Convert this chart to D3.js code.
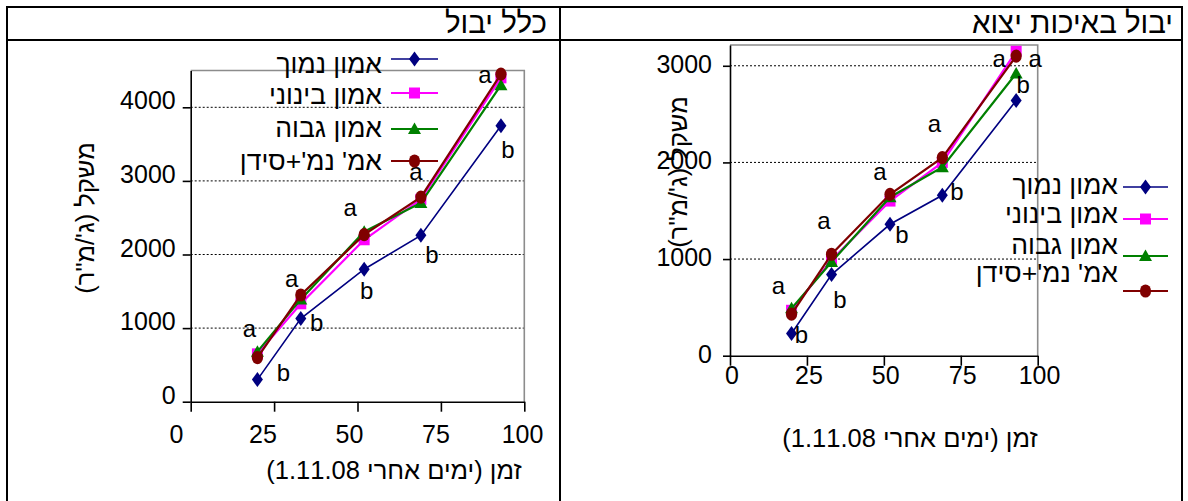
<!DOCTYPE html>
<html>
<head>
<meta charset="utf-8">
<script src="https://cdn.jsdelivr.net/npm/d3@7"></script>
<style>
  html, body { margin: 0; padding: 0; background: #fff; }
  svg { display: block; }
  text { font-family: "Liberation Sans", Arial, "DejaVu Sans", sans-serif; fill: #000; }
</style>
</head>
<body>
<svg id="chart" width="1188" height="501"></svg>
<script>
// ---- data -------------------------------------------------------------
// sampling dates, days after 1.11.08
const days = [20, 33, 52, 69, 93];
const seriesNames = ["אמון נמוך", "אמון בינוני", "אמון גבוה", "אמ' נמ'+סידן"];

// total yield (g/m²)
const totalLowN  = [300, 1130, 1800, 2260, 3750];
const totalMidN  = [650, 1330, 2200, 2750, 4400];
const totalHighN = [680, 1390, 2310, 2700, 4300];
const totalNCa   = [600, 1450, 2270, 2780, 4450];

// export-quality yield (g/m²)
const exportLowN  = [230, 840, 1360, 1660, 2640];
const exportMidN  = [470, 990, 1600, 2000, 3150];
const exportHighN = [490, 970, 1640, 1950, 2920];
const exportNCa   = [430, 1050, 1670, 2050, 3100];

const xTicks = [0, 25, 50, 75, 100];
const totalYTicks = [0, 1000, 2000, 3000, 4000];
const exportYTicks = [0, 1000, 2000, 3000];

// significance letters per date ("a" sits over the group, "b" by the low-N point)
const totalLetters  = [["a", "b"], ["a", "b"], ["a", "b"], ["a", "b"], ["a", "b"]];
const exportLetters = [["a", "b"], ["a", "b"], ["a", "b"], ["a", "b"], ["a", "a", "b"]];

const panelTitles = ["כלל יבול", "יבול באיכות יצוא"];
const yTitle = "משקל (ג'/מ\"ר)";
const xTitle = "זמן (ימים אחרי 1.11.08)";

// ---- styling ----------------------------------------------------------
const colors  = ["#000080", "#FF00FF", "#008000", "#800000"];
const shapes  = ["diamond", "square", "triangle", "circle"];
const widths  = [1.6, 2.2, 2.2, 2.2];
const rtl = s => "\u202B" + s + "\u202C";

const svg = d3.select("#chart");

// table frame
const frame = svg.append("g").attr("stroke", "#000").attr("stroke-width", 2);
frame.append("line").attr("x1", 6).attr("x2", 1183).attr("y1", 7).attr("y2", 7);
frame.append("line").attr("x1", 6).attr("x2", 1183).attr("y1", 40).attr("y2", 40);
frame.append("line").attr("x1", 7).attr("x2", 7).attr("y1", 6).attr("y2", 510);
frame.append("line").attr("x1", 560).attr("x2", 560).attr("y1", 6).attr("y2", 510);
frame.append("line").attr("x1", 1182).attr("x2", 1182).attr("y1", 6).attr("y2", 510);

svg.append("text").attr("x", 547).attr("y", 33).attr("text-anchor", "end")
  .attr("font-size", 29.5).text(rtl(panelTitles[0]));
svg.append("text").attr("x", 1173).attr("y", 33).attr("text-anchor", "end")
  .attr("font-size", 29.5).text(rtl(panelTitles[1]));

function markerPath(shape) {
  switch (shape) {
    case "diamond":  return "M0,-7.5L5.5,0L0,7.5L-5.5,0Z";
    case "square":   return "M-5.5,-5.5H5.5V5.5H-5.5Z";
    case "triangle": return "M0,-6.5L6.5,5L-6.5,5Z";
    default:         return "M-5.6,0A5.6,6.6 0 1,0 5.6,0A5.6,6.6 0 1,0 -5.6,0Z";
  }
}

function drawPanel(p) {
  const g = svg.append("g");
  const x = d3.scaleLinear().domain([0, 100]).range(p.xRange);
  const y = d3.scaleLinear().domain([0, p.yMax]).range(p.yRange);
  const xLabel = d3.scaleLinear().domain([0, 100]).range(p.xLabelRange);

  // dotted gridlines
  g.append("g").selectAll("line").data(p.yTicks.filter(d => d > 0)).join("line")
    .attr("x1", x(0)).attr("x2", x(100))
    .attr("y1", d => y(d)).attr("y2", d => y(d))
    .attr("stroke", "#000").attr("stroke-width", 1).attr("stroke-dasharray", "2,2");

  // plot border (top/right)
  g.append("path")
    .attr("d", `M${x(0)},${y(p.yMax)}H${x(100)}V${y(0)}`)
    .attr("fill", "none").attr("stroke", "#8c8c8c").attr("stroke-width", 1.6);

  // axes
  const fmt = d3.format("d");
  const ax = g.append("g").attr("transform", `translate(0,${y(0)})`)
    .call(d3.axisBottom(x).tickValues(xTicks).tickFormat(fmt)
      .tickSize(10).tickSizeOuter(0).tickPadding(p.xPad));
  ax.attr("font-size", p.tickFont);
  ax.selectAll("text").attr("x", d => xLabel(d) - x(d));
  const ay = g.append("g").attr("transform", `translate(${x(0)},0)`)
    .call(d3.axisLeft(y).tickValues(p.yTicks).tickFormat(fmt)
      .tickSize(p.yTickLen).tickSizeOuter(0).tickPadding(p.yPad));
  ay.attr("font-size", p.tickFont);
  ay.selectAll("text").attr("y", p.yLabelShift);
  [ax, ay].forEach(a => {
    a.selectAll("path, line").attr("stroke", "#000").attr("stroke-width", 1.6);
  });

  // axis titles
  g.append("text").attr("text-anchor", "middle").attr("font-size", p.yTitleFont)
    .attr("transform", `translate(${p.yTitlePos[0]},${p.yTitlePos[1]}) rotate(-90)`)
    .attr("dy", "0.35em").text(rtl(yTitle));
  g.append("text").attr("text-anchor", "middle").attr("font-size", p.xTitleFont)
    .attr("x", p.xTitlePos[0]).attr("y", p.xTitlePos[1]).attr("dy", "0.35em")
    .text(rtl(xTitle));

  // series
  const line = d3.line().x((d, i) => x(days[i])).y(d => y(d));
  p.series.forEach((vals, s) => {
    g.append("path").datum(vals).attr("d", line)
      .attr("fill", "none").attr("stroke", colors[s]).attr("stroke-width", widths[s]);
    g.append("g").selectAll("path").data(vals).join("path")
      .attr("transform", (d, i) => `translate(${x(days[i])},${y(d)})`)
      .attr("d", markerPath(shapes[s])).attr("fill", colors[s]);
  });

  // significance letters
  p.letters.forEach((lets, i) => {
    const top = d3.max(p.series, s => s[i]);
    const low = p.series[0][i];
    lets.forEach((L, k) => {
      const off = p.letterOffsets[i][k];
      const anchorY = L === "a" ? y(top) : y(low);
      g.append("text").attr("text-anchor", "middle").attr("font-size", p.letterFont)
        .attr("x", x(days[i]) + off[0]).attr("y", anchorY + off[1]).attr("dy", "0.35em")
        .text(L);
    });
  });

  // legend
  const lg = g.append("g");
  seriesNames.forEach((name, s) => {
    const ty = p.legend.textY[s], my = p.legend.markY[s];
    lg.append("text").attr("x", p.legend.textRight).attr("y", ty).attr("dy", "0.35em")
      .attr("text-anchor", "end").attr("font-size", p.legendFont).text(rtl(name));
    lg.append("line").attr("x1", p.legend.lineX[0]).attr("x2", p.legend.lineX[1])
      .attr("y1", my).attr("y2", my).attr("stroke", colors[s]).attr("stroke-width", widths[s]);
    lg.append("path").attr("transform", `translate(${(p.legend.lineX[0] + p.legend.lineX[1]) / 2},${my})`)
      .attr("d", markerPath(shapes[s])).attr("fill", colors[s]);
  });
}

drawPanel({
  series: [totalLowN, totalMidN, totalHighN, totalNCa],
  yMax: 4500, yTicks: totalYTicks,
  xRange: [190.7, 524.3], yRange: [401.7, 70.5],
  xLabelRange: [176, 522], xPad: 14, yTickLen: 8, yPad: 7, yLabelShift: -6.5,
  tickFont: 25, xTitleFont: 25.5, yTitleFont: 25.5, letterFont: 24, legendFont: 26.5,
  yTitlePos: [85, 218], xTitlePos: [394, 470],
  letters: totalLetters,
  letterOffsets: [[[-8, -23], [26, -7]], [[-9, -16], [16, 4.5]], [[-14, -24], [2.5, 21]],
                  [[-5, -25], [11, 19]], [[-16, 0], [7, 24]]],
  legend: { textRight: 382, lineX: [391, 438], textY: [64, 95, 128, 161], markY: [59, 93, 129, 161] }
});

drawPanel({
  series: [exportLowN, exportMidN, exportHighN, exportNCa],
  yMax: 3215, yTicks: exportYTicks,
  xRange: [730, 1037.7], yRange: [355.7, 45],
  xLabelRange: [731.5, 1039], xPad: 1, yTickLen: 7, yPad: 11, yLabelShift: -1.5,
  tickFont: 25, xTitleFont: 25.5, yTitleFont: 25.5, letterFont: 24, legendFont: 26.5,
  yTitlePos: [678, 172], xTitlePos: [910, 438],
  letters: exportLetters,
  letterOffsets: [[[-13, -23], [10, 1.5]], [[-7.5, -33.5], [8.5, 25.5]], [[-10, -22.6], [12, 10]],
                  [[-8, -34], [14.5, -3.5]], [[-17, 7], [19, 7], [7, -15.5]]],
  legend: { textRight: 1118, lineX: [1123, 1168], textY: [185, 214, 245, 273], markY: [187, 219, 256, 291] }
});
</script>
</body>
</html>
